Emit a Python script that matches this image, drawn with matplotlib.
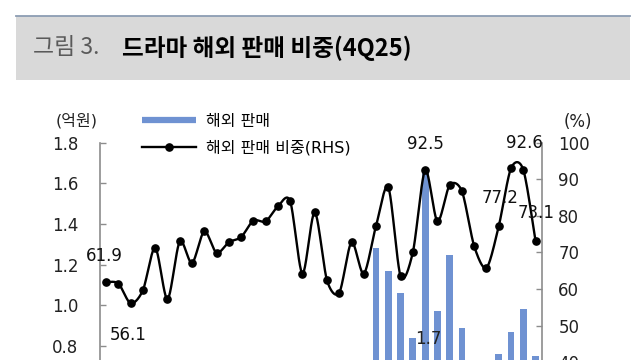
import numpy as np
import matplotlib
matplotlib.use("Agg")
import matplotlib.pyplot as plt
from matplotlib.lines import Line2D
from matplotlib.patches import Rectangle

plt.rcParams['font.family'] = ['DejaVu Sans', 'Noto Sans CJK KR']

# ## ---- ## #
# ## Data ## #
# ## ---- ## #

quarters = [f"{q}Q{y}" for y in range(17, 26) for q in range(1, 5)]

# 해외 판매 (억원), left axis - only the tall bars are readable in the crop
overseas_sales = [0.42, 0.45, 0.38, 0.40, 0.55, 0.36, 0.58, 0.47, 0.62, 0.50,
                  0.55, 0.60, 0.66, 0.64, 0.70, 0.71, 0.45, 0.68, 0.44, 0.40,
                  0.62, 0.48, 1.28, 1.17, 1.06, 0.84, 1.67, 0.97, 1.25, 0.89,
                  0.62, 0.55, 0.76, 0.87, 0.98, 0.75]

# 해외 판매 비중 (%), right axis
overseas_share = [61.9, 61.5, 56.1, 59.7, 71.3, 57.2, 73.0, 67.1, 75.8, 69.9,
                  72.8, 74.2, 78.7, 78.5, 82.6, 84.0, 64.2, 81.0, 62.4, 59.0,
                  72.8, 64.2, 77.3, 87.8, 63.5, 70.1, 92.5, 78.5, 88.4, 86.7,
                  71.7, 65.8, 77.2, 93.0, 92.6, 73.1]

# labelled points: (index, text, offset in points)
share_labels = [(0, "61.9", (-1.5, 19)), (2, "56.1", (-2, -23)),
                (26, "92.5", (0, 18.5)), (32, "77.2", (1, 20.5)),
                (34, "92.6", (1, 19.5)), (35, "73.1", (0.5, 20.5))]
sales_labels = [(26, "1.7")]

left_ticks = np.arange(0, 1.81, 0.2)
right_ticks = np.arange(0, 101, 10)

BAR_BLUE = "#6f92d2"
SPINE_GRAY = "#8c8c8c"


def smooth(xs, ys, n=24, k=7.0):
    """Excel-style smoothed line (cubic Bezier through every point)."""
    p = np.column_stack([xs, ys]).astype(float)
    out = [p[0]]
    for i in range(len(p) - 1):
        p0 = p[i - 1] if i > 0 else p[i]
        p1, p2 = p[i], p[i + 1]
        p3 = p[i + 2] if i + 2 < len(p) else p[i + 1]
        c1 = p1 + (p2 - p0) / k
        c2 = p2 - (p3 - p1) / k
        t = np.linspace(0, 1, n)[1:, None]
        seg = ((1 - t) ** 3) * p1 + 3 * ((1 - t) ** 2) * t * c1 + 3 * (1 - t) * t ** 2 * c2 + t ** 3 * p2
        out.extend(seg)
    out = np.array(out)
    return out[:, 0], out[:, 1]


# ## ------ ## #
# ## Figure ## #
# ## ------ ## #

fig = plt.figure(figsize=(6.4, 3.6), dpi=100)
W, H = 640, 360

# title band
fig.patches.append(Rectangle((16 / W, 1 - 80 / H), 614 / W, 64 / H, transform=fig.transFigure,
                             facecolor="#d9d9d9", edgecolor="none", zorder=0))
fig.add_artist(Line2D([16 / W, 630 / W], [1 - 15.5 / H] * 2, color="#8c9db3", lw=1.3))
fig.text(33 / W, 1 - 48 / H, "그림 3.", fontsize=16.5, color="#5a5a5a", va="center",
         family=['Noto Sans CJK KR'])
fig.text(122 / W, 1 - 48 / H, "드라마 해외 판매 비중(4Q25)", fontsize=17, color="black",
         va="center", fontweight="bold", family=['Noto Sans CJK KR'])

# axes run below the bottom edge (the reference is cropped)
ax = fig.add_axes([100 / W, 1 - 508.6 / H, 441.7 / W, 365.9 / H])
x = np.arange(len(quarters))
ax.bar(x, overseas_sales, width=0.55, color=BAR_BLUE, zorder=2)
ax.set_xlim(-0.5, len(quarters) - 0.5)
ax.set_ylim(0, 1.8)
ax.set_yticks(left_ticks)
# labels below the crop edge are not shown
ax.set_yticklabels([f"{v:.1f}" if v >= 0.75 else "" for v in left_ticks])
ax.set_xticks([])

ax2 = ax.twinx()
sx, sy = smooth(x, overseas_share)
ax2.plot(sx, sy, color="black", lw=1.7, zorder=3)
ax2.plot(x, overseas_share, "o", color="black", ms=5.2, zorder=4)
ax2.set_ylim(0, 100)
ax2.set_yticks(right_ticks)
ax2.set_yticklabels([f"{v:d}" if v >= 40 else "" for v in right_ticks])

for a in (ax, ax2):
    for s in ("top", "bottom"):
        a.spines[s].set_visible(False)
    a.spines["left"].set_color(SPINE_GRAY)
    a.spines["right"].set_color(SPINE_GRAY)
    a.spines["left"].set_linewidth(1.2)
    a.spines["right"].set_linewidth(1.2)
ax.spines["right"].set_visible(False)
ax2.spines["left"].set_visible(False)

ax.tick_params(axis="y", direction="in", length=4, width=1, color=SPINE_GRAY,
               labelsize=12, pad=15.5, labelcolor="#222222")
ax2.tick_params(axis="y", direction="in", length=4, width=1, color=SPINE_GRAY,
                labelsize=12, pad=12, labelcolor="#222222")

for i, txt, off in share_labels:
    ax2.annotate(txt, (x[i], overseas_share[i]), xytext=off, textcoords="offset points",
                 ha="center", va="center", fontsize=12, color="#111111", zorder=5)
for i, txt in sales_labels:
    ax.annotate(txt, (x[i], overseas_sales[i] / 2), xytext=(2, 0), textcoords="offset points",
                ha="center", va="center", fontsize=12, color="#222222", zorder=5)

# unit labels
fig.text(77 / W, 1 - 121 / H, "(억원)", fontsize=11.5, ha="center", va="center", color="#222222")
fig.text(578 / W, 1 - 122 / H, "(%)", fontsize=12, ha="center", va="center", color="#222222")

# legend
handles = [Line2D([], [], color=BAR_BLUE, lw=4.5, solid_capstyle="butt"),
           Line2D([], [], color="black", lw=1.7, marker="o", ms=5.2)]
fig.legend(handles, ["해외 판매", "해외 판매 비중(RHS)"], loc="upper left",
           bbox_to_anchor=(142 / W, 1 - 114 / H), frameon=False, fontsize=11.5,
           handlelength=3.4, handletextpad=0.6, labelspacing=0.7, borderpad=0,
           borderaxespad=0)

fig.savefig("out.png", dpi=100)
